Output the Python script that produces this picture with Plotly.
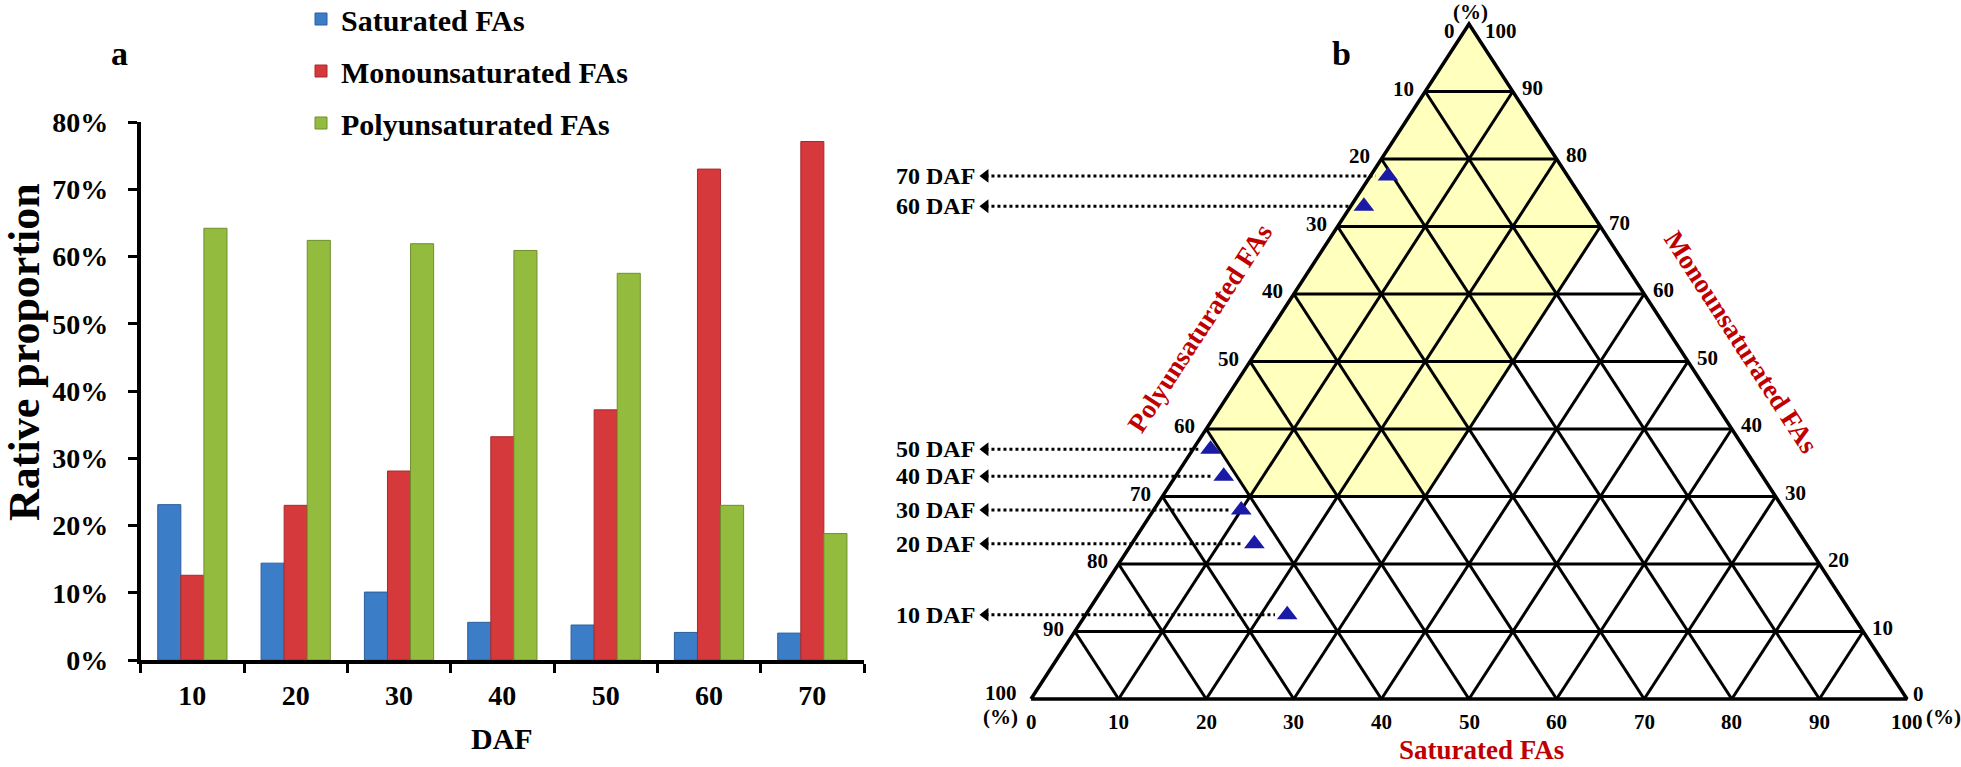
import plotly.graph_objects as go

# ---------------- data: panel a ----------------
daf = ['10', '20', '30', '40', '50', '60', '70']
saturated = [23.1, 14.4, 10.1, 5.6, 5.2, 4.1, 4.0]
monounsaturated = [12.6, 23.0, 28.1, 33.2, 37.2, 73.0, 77.1]
polyunsaturated = [64.2, 62.4, 61.9, 60.9, 57.5, 23.0, 18.8]
y_ticks = [0, 10, 20, 30, 40, 50, 60, 70, 80]

# ---------------- data: panel b (ternary, % Saturated / % Monounsaturated) ----------------
tern_labels = ['10 DAF', '20 DAF', '30 DAF', '40 DAF', '50 DAF', '60 DAF', '70 DAF']
tern_sat = [23.0, 14.0, 10.0, 5.5, 2.0, 1.5, 2.0]
tern_mono = [12.5, 23.0, 28.0, 33.0, 37.0, 73.0, 77.5]
tern_ticks = [0, 10, 20, 30, 40, 50, 60, 70, 80, 90, 100]
# shaded region corners (Saturated %, Monounsaturated %)
region_sat = [0, 30, 30, 10, 0, 0]
region_mono = [100, 70, 30, 30, 40, 100]

FONT = 'Liberation Serif'
RED = '#C00000'
W, H = 1961, 767


def tx(sat, mono):
    # ternary -> cartesian (x along base, y = height)
    return sat + mono / 2.0


def px(x):
    return x / W


def py(y):
    return 1 - y / H


fig = go.Figure()

# ---------------- panel a: grouped bars ----------------
bar_specs = [
    ('Saturated FAs', saturated, '#3C7DC8', '#2A5E9C'),
    ('Monounsaturated FAs', monounsaturated, '#D6393B', '#A82A2C'),
    ('Polyunsaturated FAs', polyunsaturated, '#93BC3F', '#6E8F2C'),
]
for name, vals, col, edge in bar_specs:
    fig.add_trace(go.Bar(
        x=daf, y=vals, name=name, legendgroup=name,
        marker=dict(color=col, line=dict(color=edge, width=1)),
        xaxis='x', yaxis='y',
    ))

# ---------------- panel b: ternary drawn on cartesian axes ----------------
fig.add_trace(go.Scatter(
    x=[tx(s, m) for s, m in zip(region_sat, region_mono)], y=region_mono,
    mode='lines', fill='toself', fillcolor='#FFFFBE', line=dict(width=0),
    hoverinfo='skip', showlegend=False, xaxis='x2', yaxis='y2'))

gx, gy = [], []
for k in tern_ticks[1:-1]:
    gx += [tx(0, k), tx(100 - k, k), None]; gy += [k, k, None]              # constant Mono
    gx += [tx(k, 0), tx(k, 100 - k), None]; gy += [0, 100 - k, None]        # constant Sat
    gx += [tx(100 - k, 0), tx(0, 100 - k), None]; gy += [0, 100 - k, None]  # constant Poly
fig.add_trace(go.Scatter(x=gx, y=gy, mode='lines', line=dict(color='black', width=3),
                         hoverinfo='skip', showlegend=False, xaxis='x2', yaxis='y2'))
fig.add_trace(go.Scatter(x=[tx(0, 0), tx(100, 0), tx(0, 100), tx(0, 0)], y=[0, 0, 100, 0],
                         mode='lines', line=dict(color='black', width=3.5),
                         hoverinfo='skip', showlegend=False, xaxis='x2', yaxis='y2'))

# dotted arrows from labels to points
LABEL_X = -6.2
TIP_X = -5.2
ax_, ay_ = [], []
for s, m in zip(tern_sat, tern_mono):
    ax_ += [TIP_X, tx(s, m) - 1.4, None]
    ay_ += [m, m, None]
fig.add_trace(go.Scatter(x=ax_, y=ay_, mode='lines', line=dict(color='black', width=3, dash='dot'),
                         hoverinfo='skip', showlegend=False, xaxis='x2', yaxis='y2'))
fig.add_trace(go.Scatter(x=[TIP_X] * len(tern_mono), y=tern_mono, mode='markers',
                         marker=dict(symbol='triangle-left', size=12, color='black'),
                         hoverinfo='skip', showlegend=False, xaxis='x2', yaxis='y2'))
fig.add_trace(go.Scatter(x=[tx(s, m) for s, m in zip(tern_sat, tern_mono)], y=tern_mono,
                         mode='markers', text=tern_labels,
                         marker=dict(symbol='triangle-up', size=18, color='#1A1AA6'),
                         showlegend=False, xaxis='x2', yaxis='y2'))

annotations = []
tick_font = dict(family=FONT, size=21, color='black', weight='bold')


def tern_ann(x, y, text, xanchor='center', xshift=0, yshift=0, font=tick_font):
    return dict(x=x, y=y, xref='x2', yref='y2', text=text, showarrow=False,
                xanchor=xanchor, yanchor='middle', xshift=xshift, yshift=yshift, font=font)


for lab, m in zip(tern_labels, tern_mono):
    annotations.append(tern_ann(LABEL_X, m, lab, 'right',
                                font=dict(family=FONT, size=24, color='black', weight='bold')))
# left edge (Polyunsaturated) labels
for p in tern_ticks:
    m = 100 - p
    if p == 0:
        annotations.append(tern_ann(tx(0, m), m, str(p), 'right', -12, -7))
    elif p == 100:
        annotations.append(tern_ann(tx(0, m), m, str(p), 'right', -12, 6))
    else:
        annotations.append(tern_ann(tx(0, m), m, str(p), 'right', -9, 3))
# right edge (Monounsaturated) labels
for m in tern_ticks:
    if m == 100:
        annotations.append(tern_ann(tx(100 - m, m), m, str(m), 'left', 14, -7))
    elif m == 0:
        annotations.append(tern_ann(tx(100 - m, m), m, str(m), 'left', 4, 5))
    else:
        annotations.append(tern_ann(tx(100 - m, m), m, str(m), 'left', 7, 4))
# bottom (Saturated) labels
for s in tern_ticks:
    annotations.append(tern_ann(tx(s, 0), 0, str(s), 'center', 0, -23))
annotations += [
    tern_ann(tx(0, 100), 100, '(%)', 'center', 1, 12),
    tern_ann(tx(0, 0), 0, '(%)', 'right', -11, -18),
    tern_ann(tx(100, 0), 0, '(%)', 'left', 17, -18),
]


def paper_ann(x, y, text, font, angle=0):
    return dict(x=px(x), y=py(y), xref='paper', yref='paper', text=text, textangle=angle,
                showarrow=False, xanchor='center', yanchor='middle', font=font)


red_font = dict(family=FONT, size=27, color=RED, weight='bold')
annotations += [
    paper_ann(1200, 328, 'Polyunsaturated FAs', red_font, -57),
    paper_ann(1741, 342, 'Monounsaturated FAs', red_font, 57),
    paper_ann(1481, 750, 'Saturated FAs', red_font),
    paper_ann(24, 352, 'Rative proportion', dict(family=FONT, size=44, color='black', weight='bold'), -90),
    paper_ann(502, 738, 'DAF', dict(family=FONT, size=30, color='black', weight='bold')),
    paper_ann(119, 54, 'a', dict(family=FONT, size=34, color='black', weight='bold')),
    paper_ann(1341, 54, 'b', dict(family=FONT, size=34, color='black', weight='bold')),
]

axis_font = dict(family=FONT, size=28, color='black', weight='bold')
fig.update_layout(
    width=W, height=H,
    margin=dict(l=0, r=0, t=0, b=0, autoexpand=False),
    paper_bgcolor='white', plot_bgcolor='white',
    barmode='group', bargap=0.33, bargroupgap=0,
    showlegend=True,
    legend=dict(x=px(301), y=py(-7), xanchor='left', yanchor='top',
                font=dict(family=FONT, size=30, color='black', weight='bold'),
                tracegroupgap=10, bgcolor='rgba(0,0,0,0)'),
    xaxis=dict(domain=[px(140.7), px(864)], type='category', tickson='boundaries',
               ticks='outside', ticklen=9, tickwidth=3, tickcolor='black',
               showline=True, linewidth=3.5, linecolor='black', showgrid=False,
               tickfont=axis_font, ticklabelstandoff=8, anchor='y', fixedrange=True),
    yaxis=dict(domain=[py(660), py(122)], range=[0, 80], tickvals=y_ticks,
               ticktext=[f'{v}%' for v in y_ticks],
               ticks='outside', ticklen=9, tickwidth=3, tickcolor='black',
               showline=True, linewidth=3.5, linecolor='black', showgrid=False, zeroline=False,
               tickfont=axis_font, ticklabelstandoff=14, anchor='x', fixedrange=True),
    xaxis2=dict(domain=[px(880), 1], range=[(880 - 1031) / 8.76, (1961 - 1031) / 8.76],
                visible=False, anchor='y2', fixedrange=True),
    yaxis2=dict(domain=[0, 1], range=[(699 - 767) / 6.75, 699 / 6.75],
                visible=False, anchor='x2', fixedrange=True),
    annotations=annotations,
)

fig.write_html('out.html', config={'displayModeBar': False},
               post_script="document.body.style.margin='0';document.body.style.overflow='hidden';")
